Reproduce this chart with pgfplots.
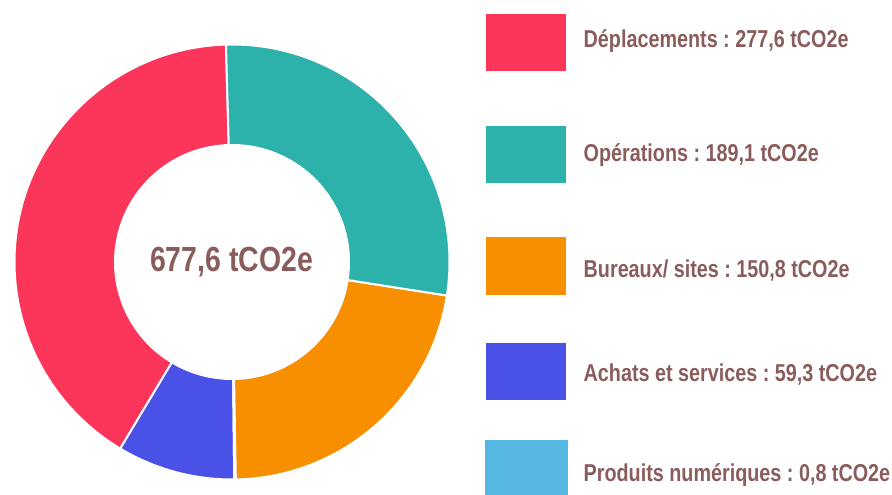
\documentclass[border=0pt]{standalone}
\usepackage{pgfplots}
\usepackage{pgfplotstable}
\pgfplotsset{compat=1.18}
\usepackage{fontspec}
\setmainfont{Liberation Sans}[FakeStretch=0.81]
\newfontfamily\centerfont{Liberation Sans}[FakeStretch=0.815]
\frenchspacing
\definecolor{cRed}{HTML}{FB365A}
\definecolor{cTeal}{HTML}{2DB1AB}
\definecolor{cOrange}{HTML}{F78F00}
\definecolor{cBlue}{HTML}{4951E6}
\definecolor{cLight}{HTML}{55B8E3}
\definecolor{txt}{HTML}{8A5C5C}
\pgfplotstableread{
name value color
Deplacements 277.6 cRed
Achats 59.3 cBlue
Produits 0.8 cLight
Bureaux 150.8 cOrange
Operations 189.1 cTeal
}\donut
\begin{document}
\begin{tikzpicture}
\begin{axis}[x=1bp,y=1bp,xmin=0,xmax=892,ymin=0,ymax=495,hide axis,clip=false]
\path (axis cs:0,0) rectangle (axis cs:892,495);
\pgfmathsetmacro{\cur}{91.6}
\pgfplotsforeachungrouped \i in {0,1,2,3,4}{%
  \pgfplotstablegetelem{\i}{value}\of\donut
  \pgfmathsetmacro{\nxt}{\cur+\pgfplotsretval/677.6*360}%
  \pgfplotstablegetelem{\i}{color}\of\donut
  \let\col\pgfplotsretval
  \pgfmathsetmacro{\xa}{232+217.5*cos(\cur)}%
  \pgfmathsetmacro{\ya}{233+217.5*sin(\cur)}%
  \pgfmathsetmacro{\xb}{232+117*cos(\nxt)}%
  \pgfmathsetmacro{\yb}{233+117*sin(\nxt)}%
  \edef\temp{\noexpand\fill[\col, draw=white, line width=2bp] (axis cs:\xa,\ya) arc[start angle=\cur, end angle=\nxt, radius=217.5bp] -- (axis cs:\xb,\yb) arc[start angle=\nxt, end angle=\cur, radius=117bp] -- cycle;}%
  \temp
  \let\cur\nxt
}
\node[txt, font=\centerfont\bfseries\fontsize{35}{40}\selectfont] at (axis cs:231.5,233) {677,6 tCO2e};
% legend
\fill[cRed] (axis cs:486,481) rectangle (axis cs:566,424);
\fill[cTeal] (axis cs:486,369) rectangle (axis cs:566,312);
\fill[cOrange] (axis cs:486,258) rectangle (axis cs:566,200);
\fill[cBlue] (axis cs:486,152) rectangle (axis cs:566,95);
\fill[cLight] (axis cs:485,55) rectangle (axis cs:568,0);
\begin{scope}[every node/.style={anchor=base west, txt, font=\bfseries\fontsize{24.5}{28}\selectfont, inner sep=0pt}]
\node at (axis cs:583.5,447.3) {Déplacements : 277,6 tCO2e};
\node at (axis cs:583.5,333) {Opérations : 189,1 tCO2e};
\node at (axis cs:583.5,217) {Bureaux/ sites : 150,8 tCO2e};
\node at (axis cs:583.5,113) {Achats et services : 59,3 tCO2e};
\node at (axis cs:583.5,13) {Produits numériques : 0,8 tCO2e};
\end{scope}
\end{axis}
\end{tikzpicture}
\end{document}
